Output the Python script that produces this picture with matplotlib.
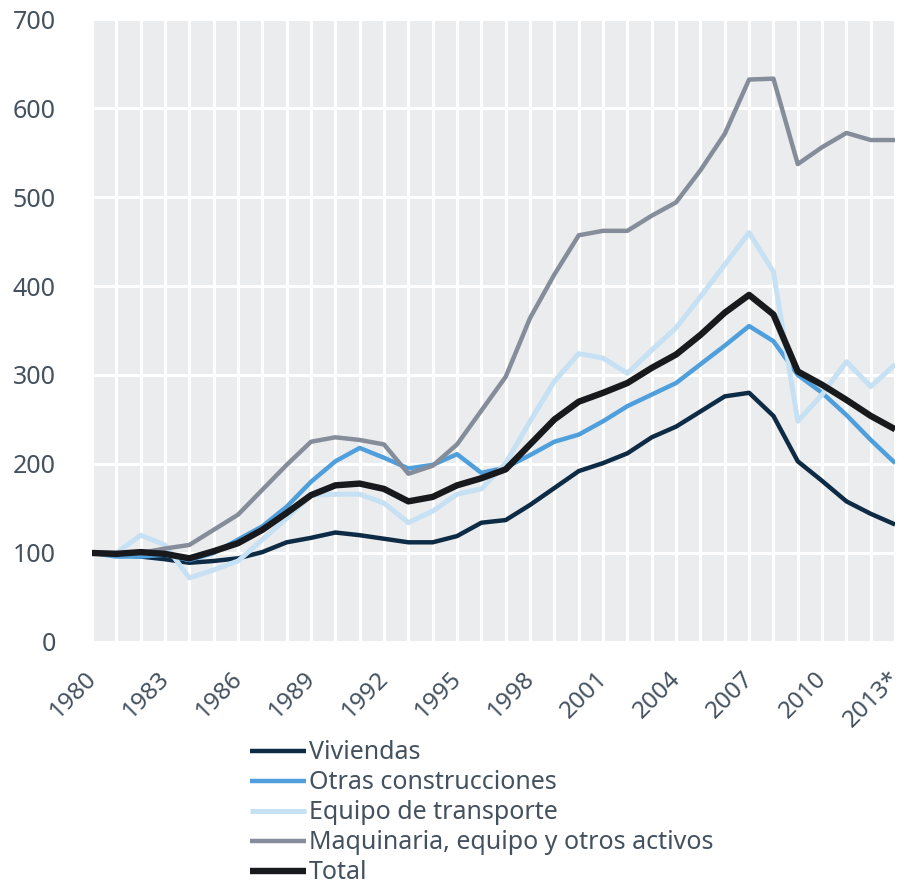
import matplotlib.pyplot as plt
from matplotlib.transforms import ScaledTranslation

years = list(range(1980, 2014))
tick_labels = ["1980", "1983", "1986", "1989", "1992", "1995", "1998",
               "2001", "2004", "2007", "2010", "2013*"]

viviendas = [100, 98, 96, 93, 89, 91, 94, 101, 112, 117, 123, 120, 116, 112, 112, 119,
             134, 137, 154, 173, 192, 201, 212, 230, 242, 259, 276, 280, 254, 203,
             181, 158, 144, 132]
otras = [100, 96, 96, 98, 92, 100, 115, 130, 152, 180, 203, 218, 207, 195, 199, 211,
         190, 196, 210, 225, 233, 248, 265, 278, 291, 312, 333, 355, 338, 300,
         280, 255, 227, 201]
transporte = [100, 100, 120, 109, 72, 81, 91, 115, 139, 165, 166, 166, 156, 134, 147, 166,
              172, 201, 248, 293, 324, 319, 302, 328, 353, 388, 424, 460, 416, 248,
              278, 315, 287, 312]
maquinaria = [100, 100, 100, 105, 109, 126, 143, 171, 199, 225, 230, 227, 222, 189, 198, 222,
              260, 298, 364, 413, 457, 462, 462, 479, 494, 530, 571, 632, 633, 537,
              556, 572, 564, 564]
total = [100, 99, 101, 99, 94, 102, 111, 126, 145, 165, 176, 178, 172, 158, 163, 176,
         184, 194, 222, 250, 270, 280, 291, 308, 323, 345, 370, 390, 368, 304,
         289, 272, 254, 239]

labels = ["Viviendas", "Otras construcciones", "Equipo de transporte",
          "Maquinaria, equipo y otros activos", "Total"]
colors = ["#0e2b46", "#4f9fdc", "#c6e1f3", "#868d9a", "#18191c"]
widths = [3.2, 3.2, 3.6, 3.2, 4.6]

text_color = "#44515f"
plt.rcParams['font.family'] = ['Noto Sans', 'DejaVu Sans']

fig = plt.figure(figsize=(9.06, 8.85), dpi=100)
ax = fig.add_axes([0.1015, 0.2746, 0.8865, 0.7039])
ax.set_facecolor("#ebecee")

series = [viviendas, otras, transporte, maquinaria, total]
for vals, lab, col, lw in zip(series, labels, colors, widths):
    ax.plot(years, vals, color=col, lw=lw, label=lab, solid_capstyle='butt', zorder=3)

ax.set_xlim(1980, 2013)
ax.set_ylim(0, 700)
ax.set_yticks(range(0, 701, 100))
ax.set_xticks(years, minor=True)
ax.set_xticks(list(range(1980, 2014, 3)))
ax.set_xticklabels(tick_labels, rotation=45, ha='right', va='center', rotation_mode='anchor')
ax.grid(True, which='both', axis='x', color='white', lw=2.2, zorder=1)
ax.grid(True, which='major', axis='y', color='white', lw=2.2, zorder=1)
ax.set_axisbelow(True)
for s in ax.spines.values():
    s.set_visible(False)
ax.tick_params(which='both', length=0, labelsize=18, labelcolor=text_color)
ax.tick_params(axis='y', pad=26)
ax.tick_params(axis='x', labelsize=17.5, pad=24)

# nudge the rotated year labels a touch to the right
shift = ScaledTranslation(1 / 100, 0, fig.dpi_scale_trans)
for lbl in ax.get_xticklabels():
    lbl.set_transform(lbl.get_transform() + shift)

leg = fig.legend(loc='upper left', bbox_to_anchor=(0.276, 0.1633), frameon=False,
                 fontsize=18, handlelength=2.25, handletextpad=0.1, labelspacing=0.2,
                 borderaxespad=0, borderpad=0)
for t in leg.get_texts():
    t.set_color(text_color)

fig.savefig("out.png", dpi=100)
